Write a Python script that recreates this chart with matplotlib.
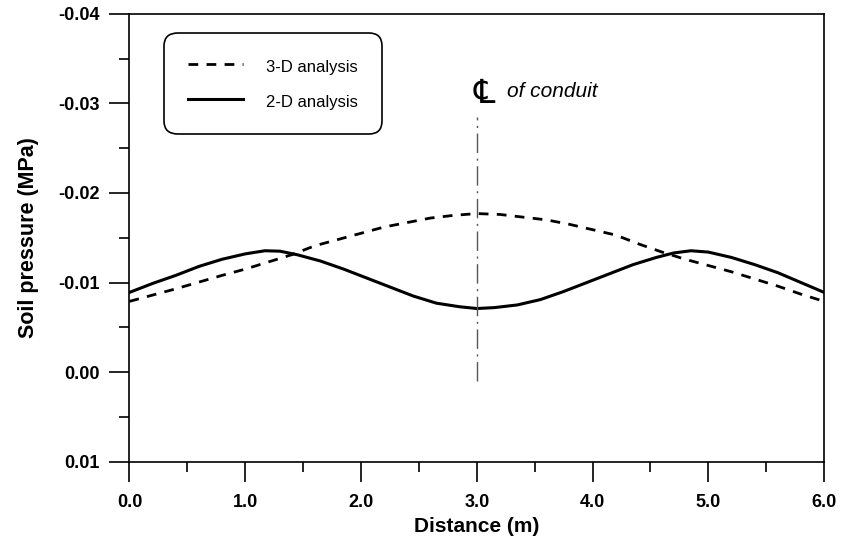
import matplotlib

matplotlib.use("Agg")

import matplotlib.pyplot as plt
from matplotlib.ticker import MultipleLocator, FormatStrFormatter

plt.rcParams["font.family"] = ["Liberation Sans", "DejaVu Sans"]

# 3-D analysis (dashed)
x_3d = [0.0, 0.4, 0.8, 1.0, 1.2, 1.4, 1.6, 1.8, 2.0, 2.2, 2.4, 2.6, 2.8, 3.0,
        3.2, 3.4, 3.6, 3.8, 4.0, 4.2, 4.4, 4.6, 4.8, 5.0, 5.2, 5.4, 5.6, 5.8, 6.0]
p_3d = [-0.0079, -0.0093, -0.0108, -0.0115, -0.0123, -0.0131, -0.0141, -0.0148,
        -0.0155, -0.0162, -0.0167, -0.0172, -0.0175, -0.0177,
        -0.0176, -0.0173, -0.0170, -0.0165, -0.0159, -0.0153, -0.0143, -0.0134,
        -0.0126, -0.0119, -0.0112, -0.0104, -0.0096, -0.0087, -0.0079]

# 2-D analysis (solid)
x_2d = [0.0, 0.2, 0.4, 0.6, 0.8, 1.0, 1.17, 1.3, 1.45, 1.65, 1.85, 2.05, 2.25, 2.45,
        2.65, 2.85, 3.0, 3.15, 3.35, 3.55, 3.75, 3.95, 4.15, 4.35, 4.55, 4.7, 4.85,
        5.0, 5.2, 5.4, 5.6, 5.8, 6.0]
p_2d = [-0.0089, -0.0099, -0.0108, -0.0118, -0.0126, -0.0132, -0.01355, -0.0135,
        -0.0131, -0.0124, -0.0115, -0.0105, -0.0095, -0.0085, -0.0077, -0.0073,
        -0.0071, -0.0072, -0.0075, -0.0081, -0.0090, -0.0100, -0.0110, -0.0120,
        -0.0128, -0.0133, -0.01355, -0.0134, -0.0128, -0.0120, -0.0111, -0.0100,
        -0.0089]

# centre line of conduit
cl_x = [3.0, 3.0]
cl_y = [0.001, -0.0285]

fig = plt.figure(figsize=(8.43, 5.39), dpi=100)
ax = fig.add_axes([0.1536, 0.1434, 0.824, 0.831])

ax.plot(x_3d, p_3d, color="black", lw=2.0, dashes=(3.5, 3.0), label="3-D analysis")
ax.plot(x_2d, p_2d, color="black", lw=2.2, label="2-D analysis")
ax.plot(cl_x, cl_y, color="#555555", lw=1.0, dashes=(14, 4, 1.5, 4))

# centre-line symbol and note above the top of the centre line
ax.annotate("\u2104", xy=(cl_x[1], cl_y[1]), xytext=(5.5, 16.5), textcoords="offset points",
            ha="center", va="center", fontsize=24, family=["DejaVu Sans"])
ax.annotate("of conduit", xy=(cl_x[1], cl_y[1]), xytext=(21.6, 14), textcoords="offset points",
            ha="left", va="baseline", fontsize=15, style="italic")

ax.set_xlim(0, 6)
ax.set_ylim(0.01, -0.04)
ax.xaxis.set_major_locator(MultipleLocator(1.0))
ax.xaxis.set_minor_locator(MultipleLocator(0.5))
ax.yaxis.set_major_locator(MultipleLocator(0.01))
ax.yaxis.set_minor_locator(MultipleLocator(0.005))
ax.xaxis.set_major_formatter(FormatStrFormatter("%.1f"))
ax.yaxis.set_major_formatter(FormatStrFormatter("%.2f"))
ax.tick_params(which="major", direction="out", length=14.4, width=1.2, labelsize=13)
ax.tick_params(which="minor", direction="out", length=7.2, width=1.2)
ax.tick_params(axis="x", which="major", pad=9)
ax.tick_params(axis="y", which="major", pad=7)
for lab in ax.get_xticklabels() + ax.get_yticklabels():
    lab.set_fontweight("bold")
for sp in ax.spines.values():
    sp.set_linewidth(1.2)

ax.set_xlabel("Distance (m)", fontsize=15, fontweight="bold", labelpad=4)
ax.set_ylabel("Soil pressure (MPa)", fontsize=15.5, fontweight="bold", labelpad=14)

leg = ax.legend(loc="upper left", bbox_to_anchor=(0.0576, 0.946), fontsize=12,
                handlelength=3.3, handleheight=1.35, handletextpad=1.4, borderpad=1.12,
                labelspacing=1.0, borderaxespad=0, fancybox=True, framealpha=1,
                edgecolor="black")
leg.get_frame().set_linewidth(1.2)
leg.get_frame().set_boxstyle("round", pad=0.3, rounding_size=0.8)

fig.savefig("out.png", dpi=100)
